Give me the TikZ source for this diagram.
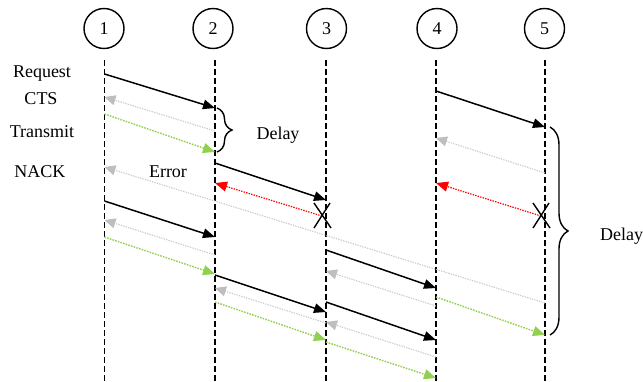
\documentclass[tikz,border=0pt]{standalone}
\usepackage{fontspec}
\setmainfont{Liberation Serif}
\usetikzlibrary{arrows.meta,decorations.pathreplacing}

\definecolor{ctsline}{RGB}{200,200,200}
\definecolor{ctshead}{RGB}{190,190,190}
\definecolor{datagreen}{RGB}{146,208,80}
\definecolor{errred}{RGB}{255,0,0}

\tikzset{
  station/.style={circle, draw, line width=1.4pt, minimum size=40pt, inner sep=0pt},
  lifeline/.style={line width=1.6pt, dash pattern=on 5.5pt off 3.5pt},
  label/.style={anchor=base, inner sep=0pt},
  reqmsg/.style={line width=1.5pt, -{Triangle[length=12pt,width=9.5pt]}},
  ctsmsg/.style={ctsline, line width=1.1pt, dash pattern=on 1.3pt off 1.2pt,
                 -{Triangle[length=11pt,width=10pt,color=ctshead]}},
  datamsg/.style={datagreen, line width=1.4pt, dash pattern=on 1.6pt off 1.2pt,
                 -{Triangle[length=12pt,width=10pt]}},
  errmsg/.style={errred, line width=1.2pt, dash pattern=on 1.4pt off 1.2pt,
                 -{Triangle[length=12pt,width=10pt]}},
  lost/.style={line width=1.4pt},
  delaybrace/.style={line width=1.4pt, decorate, decoration={brace, amplitude=#1}},
}

\begin{document}
\begin{tikzpicture}[x=1pt, y=-1pt, font=\fontsize{18}{20}\selectfont]
  \useasboundingbox (0,0) rectangle (643,381);

  % stations
  \node[station] (s1) at (104,28.5) {1};
  \node[station] (s2) at (213,28.5) {2};
  \node[station] (s3) at (326.5,28.5) {3};
  \node[station] (s4) at (437,28.5) {4};
  \node[station] (s5) at (544.5,28.5) {5};

  % lifelines
  \foreach \i/\x in {1/104.5, 2/215, 3/326, 4/436, 5/545} {
    \coordinate (top\i) at (\x,60);
    \coordinate (bot\i) at (\x,381);
    \draw[lifeline] (top\i) -- (bot\i);
  }

  % message end points on the lifelines
  \foreach \n/\x/\y in {
      a1/104.5/74,  a2/215/108,
      b2/215/131,   b1/104.5/97,
      c1/104.5/114, c2/215/152,
      d2/215/163,   d3/326/200,
      e3/322/216,   e2/215/183,
      f5/545/303,   f1/104.5/167,
      g4/436/91,    g5/545/127,
      h5/545/173,   h4/436/138,
      i5/541/216,   i4/436/183,
      j1/104.5/201, j2/215/237,
      k2/215/255,   k1/104.5/220,
      l1/104.5/237, l2/215/274,
      m2/215/275,   m3/326/312,
      n3/326/323,   n2/215/288,
      o2/215/302,   o3/326/340,
      p3/326/250,   p4/436/288,
      q4/436/306,   q3/326/271,
      r4/436/297,   r5/545/335,
      t3/326/302,   t4/436/340,
      u4/436/357,   u3/326/322,
      v3/326/342,   v4/436/378} {
    \coordinate (\n) at (\x,\y);
  }

  % gray acknowledgements (drawn first, underneath)
  \draw[ctsmsg] (f5) -- (f1);
  \draw[ctsmsg] (b2) -- (b1);
  \draw[ctsmsg] (h5) -- (h4);
  \draw[ctsmsg] (k2) -- (k1);
  \draw[ctsmsg] (n3) -- (n2);
  \draw[ctsmsg] (q4) -- (q3);
  \draw[ctsmsg] (u4) -- (u3);

  % data transfers
  \draw[datamsg] (c1) -- (c2);
  \draw[datamsg] (l1) -- (l2);
  \draw[datamsg] (o2) -- (o3);
  \draw[datamsg] (r4) -- (r5);
  \draw[datamsg] (v3) -- (v4);

  % error reports
  \draw[errmsg] (e3) -- (e2);
  \draw[errmsg] (i5) -- (i4);

  % requests
  \draw[reqmsg] (a1) -- (a2);
  \draw[reqmsg] (d2) -- (d3);
  \draw[reqmsg] (g4) -- (g5);
  \draw[reqmsg] (j1) -- (j2);
  \draw[reqmsg] (m2) -- (m3);
  \draw[reqmsg] (p3) -- (p4);
  \draw[reqmsg] (t3) -- (t4);

  % lost frames
  \coordinate (x3a) at (314,203); \coordinate (x3b) at (331,228);
  \coordinate (x3c) at (314,228); \coordinate (x3d) at (330,203);
  \draw[lost] (x3a) -- (x3b) (x3c) -- (x3d);
  \coordinate (x5a) at (533,203); \coordinate (x5b) at (550,228);
  \coordinate (x5c) at (533,228); \coordinate (x5d) at (549,203);
  \draw[lost] (x5a) -- (x5b) (x5c) -- (x5d);

  % delay braces
  \coordinate (br1a) at (217,108); \coordinate (br1b) at (217,152);
  \draw[delaybrace=15pt] (br1a) -- (br1b);
  \coordinate (br2a) at (550,127); \coordinate (br2b) at (550,335);
  \draw[delaybrace=18pt] (br2a) -- (br2b);

  % labels
  \node[label] (lreq)  at (42,77)  {Request};
  \node[label] (lcts)  at (41,104) {CTS};
  \node[label] (ltx)   at (42,137) {Transmit};
  \node[label] (lnack) at (40,177) {NACK};
  \node[label] (lerr)  at (168,177) {Error};
  \node[label] (ldel1) at (278,139) {Delay};
  \node[label, anchor=base west] (ldel2) at (600,240) {Delay};
\end{tikzpicture}
\end{document}
